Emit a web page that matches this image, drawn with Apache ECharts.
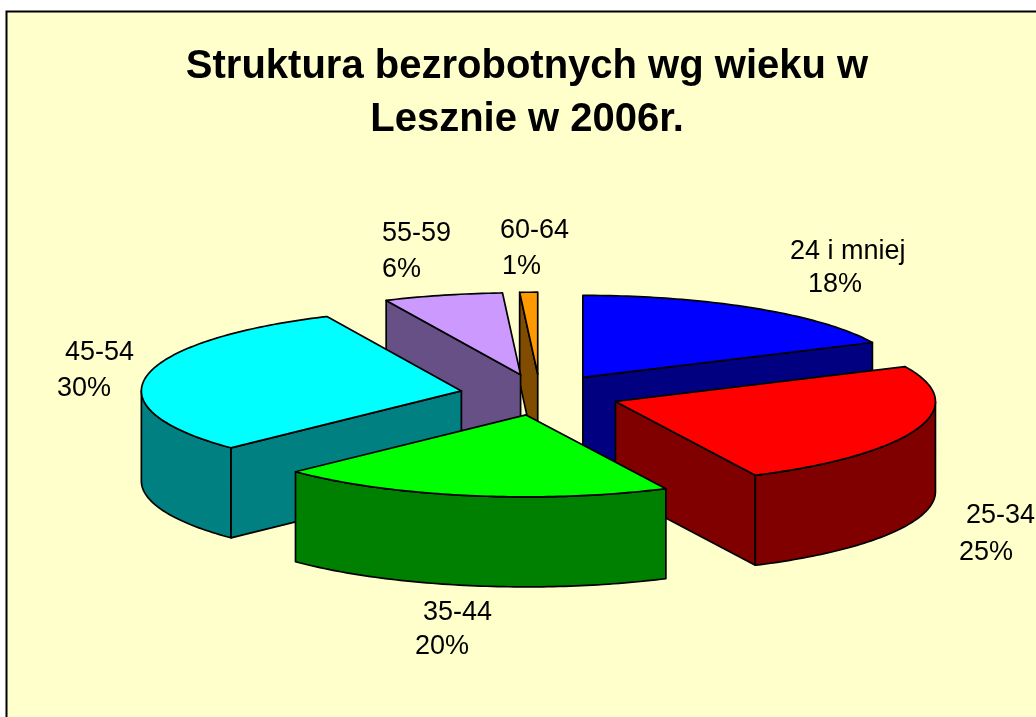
<!DOCTYPE html>
<html>
<head>
<meta charset="utf-8">
<style>html,body{margin:0;padding:0;background:#fff;overflow:hidden}#c{width:1036px;height:717px}</style>
<script src="https://cdn.jsdelivr.net/npm/echarts@6/dist/echarts.min.js"></script>
</head>
<body>
<div id="c"></div>
<script>
var titleText = 'Struktura bezrobotnych wg wieku w\nLesznie w 2006r.';
var categories = ['24 i mniej', '25-34', '35-44', '45-54', '55-59', '60-64'];
var percents = [18, 24.8, 20, 30.3, 6, 0.9];
var topColors = ['#0000FF', '#FF0000', '#00FF00', '#00FFFF', '#CC99FF', '#FF9900'];
var sideColors = ['#000080', '#800000', '#008000', '#008080', '#665085', '#804D00'];
// back-to-front painting order of the slices
var paintOrder = [0, 5, 4, 3, 1, 2];
// [x, y] of the name line, [x, y] of the percent line
var labelPlaces = [
  [790, 252, 808, 285],
  [966, 516, 959, 553],
  [423, 613, 415, 647],
  [65, 353, 57, 389],
  [382, 234, 382, 270],
  [500, 231, 502, 267]
];
var pie = { cx: 540, cy: 394.7, rx: 320, ry: 82, explode: 0.25, depth: 90 };

var total = percents.reduce(function (a, b) { return a + b; }, 0);
var starts = [];
percents.reduce(function (acc, v, i) { starts[i] = acc; return acc + v; }, 0);
var seriesData = paintOrder.map(function (i) { return [starts[i], percents[i], i]; });

function renderSlice(params, api) {
  var start = api.value(0) / total * 360;
  var sweep = api.value(1) / total * 360;
  var idx = api.value(2);
  var end = start + sweep;
  var rad = Math.PI / 180;
  var mid = (start + end) / 2 * rad;
  var ax = pie.cx + pie.explode * pie.rx * Math.sin(mid);
  var ay = pie.cy - pie.explode * pie.ry * Math.cos(mid);
  function pt(deg, dy) {
    return [ax + pie.rx * Math.sin(deg * rad), ay - pie.ry * Math.cos(deg * rad) + (dy || 0)];
  }
  var d = pie.depth;
  var line = { stroke: '#000', lineWidth: 1.7, lineJoin: 'round' };
  function poly(points, fill) {
    return { type: 'polygon', shape: { points: points }, style: Object.assign({ fill: fill }, line) };
  }
  var apex = [ax, ay], apexLow = [ax, ay + d];
  var children = [];
  var side = sideColors[idx];
  // cut faces that face the viewer
  if (Math.sin(end * rad) > 1e-6) {
    children.push(poly([apex, pt(end), pt(end, d), apexLow], side));
  }
  if (Math.sin(start * rad) < -1e-6) {
    children.push(poly([apex, pt(start), pt(start, d), apexLow], side));
  }
  // outer rim, front half only
  var a0 = Math.max(start, 90), a1 = Math.min(end, 270);
  if (a1 > a0) {
    var upper = [], lower = [];
    for (var t = a0; t < a1; t += 1) { upper.push(pt(t)); lower.unshift(pt(t, d)); }
    upper.push(pt(a1)); lower.unshift(pt(a1, d));
    children.push(poly(upper.concat(lower), side));
  }
  // top face
  var top = [apex];
  for (var s = start; s < end; s += 1) { top.push(pt(s)); }
  top.push(pt(end));
  children.push(poly(top, topColors[idx]));
  // label
  var lp = labelPlaces[idx];
  var font = { fontFamily: '"Liberation Sans", Arial, sans-serif', fontSize: 27, fill: '#000', verticalAlign: 'middle', align: 'left' };
  children.push({ type: 'text', x: lp[0], y: lp[1], z2: 50, style: Object.assign({ text: categories[idx] }, font) });
  children.push({ type: 'text', x: lp[2], y: lp[3], z2: 50, style: Object.assign({ text: Math.round(percents[idx]) + '%' }, font) });
  return { type: 'group', children: children };
}

var chart = echarts.init(document.getElementById('c'), null, { renderer: 'canvas' });
chart.setOption({
  animation: false,
  backgroundColor: '#fff',
  graphic: [{
    type: 'rect', z: -10, silent: true,
    shape: { x: 6.5, y: 11.5, width: 1100, height: 800 },
    style: { fill: '#FFFFCC', stroke: '#000', lineWidth: 2 }
  }],
  title: {
    text: titleText,
    left: 522, top: 35,
    textAlign: 'center',
    textStyle: { fontFamily: '"Liberation Sans", Arial, sans-serif', fontSize: 40, fontWeight: 'bold', color: '#000', lineHeight: 53 }
  },
  series: [{
    type: 'custom',
    coordinateSystem: 'none',
    silent: true,
    clip: false,
    renderItem: renderSlice,
    encode: { value: [1] },
    data: seriesData
  }]
});
</script>
</body>
</html>
